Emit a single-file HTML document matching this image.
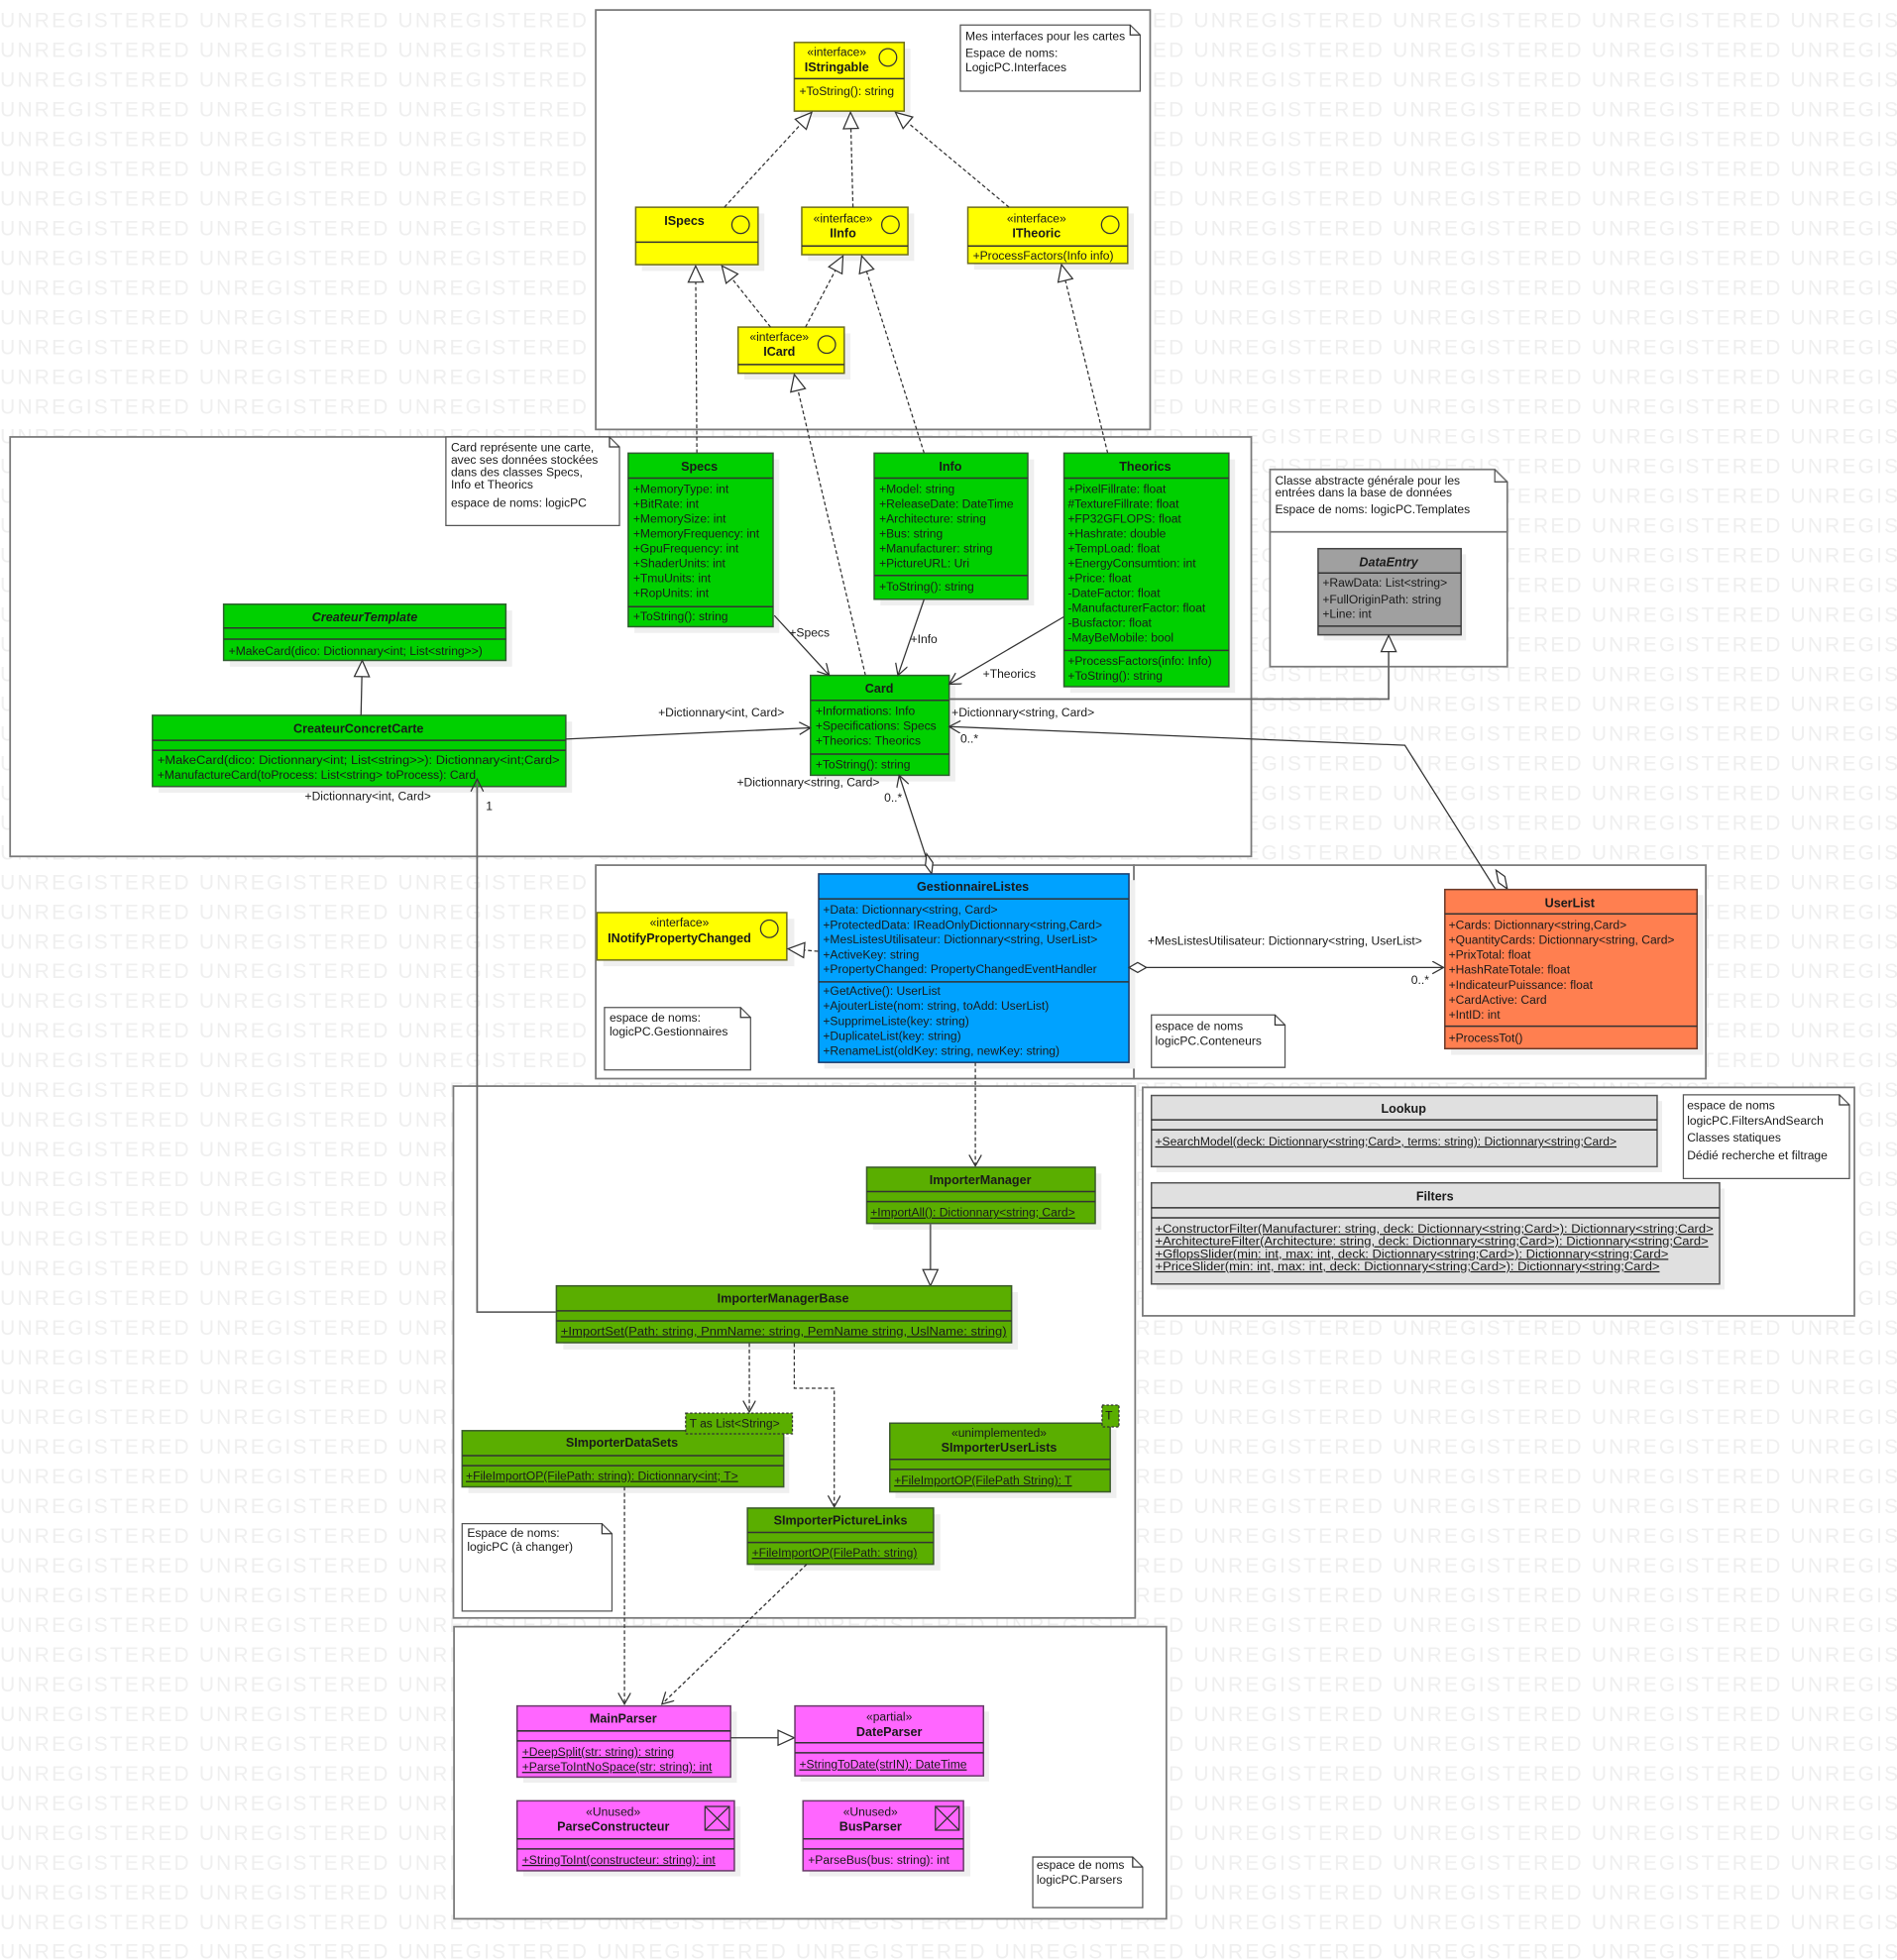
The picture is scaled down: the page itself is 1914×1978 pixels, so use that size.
<!DOCTYPE html>
<html><head><meta charset="utf-8"><style>
html,body{margin:0;padding:0;background:#fff;}
svg{display:block;}
text{font-family:"Liberation Sans",sans-serif;font-size:9.6px;fill:#1a1a1a;}
.wm{font-size:16.6px;fill:#efefef;}
.t{font-weight:bold;font-size:10px;text-anchor:middle;}
.c{text-anchor:middle;}
.i{font-style:italic;}
.u{text-decoration:underline;}
.pk{fill:#fff;stroke:#7a7a7a;stroke-width:1.4;}
.nt{fill:#fff;stroke:#555;stroke-width:1;}
.sh{fill:#efefef;}
.y{fill:#ffff00;stroke:#6e6e1e;stroke-width:1.2;}
.g{fill:#00d000;stroke:#2f5f2f;stroke-width:1.2;}
.g2{fill:#5aae00;stroke:#3a5a2a;stroke-width:1.2;}
.b{fill:#00a2ff;stroke:#1a3a6a;stroke-width:1.2;}
.o{fill:#ff7f50;stroke:#6a3a2a;stroke-width:1.2;}
.m{fill:#ff66ff;stroke:#6a3a6a;stroke-width:1.2;}
.gr{fill:#e0e0e0;stroke:#555;stroke-width:1.2;}
.dg{fill:#a0a0a0;stroke:#444;stroke-width:1.2;}
.dv{stroke:#333;stroke-width:1.2;}
.ln{stroke:#333;stroke-width:1;fill:none;}
.ls{stroke:#666;stroke-width:1.4;fill:none;}
.d{stroke:#333;stroke-width:1;fill:none;stroke-dasharray:3,2;}
</style></head><body>
<svg width="1914" height="1978" viewBox="0 0 1519 1570" xmlns="http://www.w3.org/2000/svg">
<defs>
<marker id="tri" markerUnits="userSpaceOnUse" markerWidth="16" markerHeight="16" refX="14" refY="7" orient="auto"><path d="M1,1 L14,7 L1,13 z" fill="#fff" stroke="#333" stroke-width="1"/></marker>
<marker id="arr" markerUnits="userSpaceOnUse" markerWidth="12" markerHeight="12" refX="10" refY="5" orient="auto"><path d="M1,0 L10,5 L1,10" fill="none" stroke="#333" stroke-width="1"/></marker>
<marker id="dia" markerUnits="userSpaceOnUse" markerWidth="16" markerHeight="10" refX="1" refY="4" orient="auto"><path d="M1,4 L7,1 L13,4 L7,7 z" fill="#fff" stroke="#333" stroke-width="1"/></marker>
</defs>
<rect width="1519" height="1570" fill="#fff"/>
<g>
<text class="wm" x="0" y="22" textLength="1585" lengthAdjust="spacing">UNREGISTERED UNREGISTERED UNREGISTERED UNREGISTERED UNREGISTERED UNREGISTERED UNREGISTERED UNREGISTERED UNREGISTERED UNREGISTERED</text>
<text class="wm" x="0" y="45.8" textLength="1585" lengthAdjust="spacing">UNREGISTERED UNREGISTERED UNREGISTERED UNREGISTERED UNREGISTERED UNREGISTERED UNREGISTERED UNREGISTERED UNREGISTERED UNREGISTERED</text>
<text class="wm" x="0" y="69.6" textLength="1585" lengthAdjust="spacing">UNREGISTERED UNREGISTERED UNREGISTERED UNREGISTERED UNREGISTERED UNREGISTERED UNREGISTERED UNREGISTERED UNREGISTERED UNREGISTERED</text>
<text class="wm" x="0" y="93.4" textLength="1585" lengthAdjust="spacing">UNREGISTERED UNREGISTERED UNREGISTERED UNREGISTERED UNREGISTERED UNREGISTERED UNREGISTERED UNREGISTERED UNREGISTERED UNREGISTERED</text>
<text class="wm" x="0" y="117.2" textLength="1585" lengthAdjust="spacing">UNREGISTERED UNREGISTERED UNREGISTERED UNREGISTERED UNREGISTERED UNREGISTERED UNREGISTERED UNREGISTERED UNREGISTERED UNREGISTERED</text>
<text class="wm" x="0" y="141" textLength="1585" lengthAdjust="spacing">UNREGISTERED UNREGISTERED UNREGISTERED UNREGISTERED UNREGISTERED UNREGISTERED UNREGISTERED UNREGISTERED UNREGISTERED UNREGISTERED</text>
<text class="wm" x="0" y="164.8" textLength="1585" lengthAdjust="spacing">UNREGISTERED UNREGISTERED UNREGISTERED UNREGISTERED UNREGISTERED UNREGISTERED UNREGISTERED UNREGISTERED UNREGISTERED UNREGISTERED</text>
<text class="wm" x="0" y="188.6" textLength="1585" lengthAdjust="spacing">UNREGISTERED UNREGISTERED UNREGISTERED UNREGISTERED UNREGISTERED UNREGISTERED UNREGISTERED UNREGISTERED UNREGISTERED UNREGISTERED</text>
<text class="wm" x="0" y="212.4" textLength="1585" lengthAdjust="spacing">UNREGISTERED UNREGISTERED UNREGISTERED UNREGISTERED UNREGISTERED UNREGISTERED UNREGISTERED UNREGISTERED UNREGISTERED UNREGISTERED</text>
<text class="wm" x="0" y="236.2" textLength="1585" lengthAdjust="spacing">UNREGISTERED UNREGISTERED UNREGISTERED UNREGISTERED UNREGISTERED UNREGISTERED UNREGISTERED UNREGISTERED UNREGISTERED UNREGISTERED</text>
<text class="wm" x="0" y="260" textLength="1585" lengthAdjust="spacing">UNREGISTERED UNREGISTERED UNREGISTERED UNREGISTERED UNREGISTERED UNREGISTERED UNREGISTERED UNREGISTERED UNREGISTERED UNREGISTERED</text>
<text class="wm" x="0" y="283.8" textLength="1585" lengthAdjust="spacing">UNREGISTERED UNREGISTERED UNREGISTERED UNREGISTERED UNREGISTERED UNREGISTERED UNREGISTERED UNREGISTERED UNREGISTERED UNREGISTERED</text>
<text class="wm" x="0" y="307.6" textLength="1585" lengthAdjust="spacing">UNREGISTERED UNREGISTERED UNREGISTERED UNREGISTERED UNREGISTERED UNREGISTERED UNREGISTERED UNREGISTERED UNREGISTERED UNREGISTERED</text>
<text class="wm" x="0" y="331.4" textLength="1585" lengthAdjust="spacing">UNREGISTERED UNREGISTERED UNREGISTERED UNREGISTERED UNREGISTERED UNREGISTERED UNREGISTERED UNREGISTERED UNREGISTERED UNREGISTERED</text>
<text class="wm" x="0" y="355.2" textLength="1585" lengthAdjust="spacing">UNREGISTERED UNREGISTERED UNREGISTERED UNREGISTERED UNREGISTERED UNREGISTERED UNREGISTERED UNREGISTERED UNREGISTERED UNREGISTERED</text>
<text class="wm" x="0" y="379" textLength="1585" lengthAdjust="spacing">UNREGISTERED UNREGISTERED UNREGISTERED UNREGISTERED UNREGISTERED UNREGISTERED UNREGISTERED UNREGISTERED UNREGISTERED UNREGISTERED</text>
<text class="wm" x="0" y="402.8" textLength="1585" lengthAdjust="spacing">UNREGISTERED UNREGISTERED UNREGISTERED UNREGISTERED UNREGISTERED UNREGISTERED UNREGISTERED UNREGISTERED UNREGISTERED UNREGISTERED</text>
<text class="wm" x="0" y="426.6" textLength="1585" lengthAdjust="spacing">UNREGISTERED UNREGISTERED UNREGISTERED UNREGISTERED UNREGISTERED UNREGISTERED UNREGISTERED UNREGISTERED UNREGISTERED UNREGISTERED</text>
<text class="wm" x="0" y="450.4" textLength="1585" lengthAdjust="spacing">UNREGISTERED UNREGISTERED UNREGISTERED UNREGISTERED UNREGISTERED UNREGISTERED UNREGISTERED UNREGISTERED UNREGISTERED UNREGISTERED</text>
<text class="wm" x="0" y="474.2" textLength="1585" lengthAdjust="spacing">UNREGISTERED UNREGISTERED UNREGISTERED UNREGISTERED UNREGISTERED UNREGISTERED UNREGISTERED UNREGISTERED UNREGISTERED UNREGISTERED</text>
<text class="wm" x="0" y="498" textLength="1585" lengthAdjust="spacing">UNREGISTERED UNREGISTERED UNREGISTERED UNREGISTERED UNREGISTERED UNREGISTERED UNREGISTERED UNREGISTERED UNREGISTERED UNREGISTERED</text>
<text class="wm" x="0" y="521.8" textLength="1585" lengthAdjust="spacing">UNREGISTERED UNREGISTERED UNREGISTERED UNREGISTERED UNREGISTERED UNREGISTERED UNREGISTERED UNREGISTERED UNREGISTERED UNREGISTERED</text>
<text class="wm" x="0" y="545.6" textLength="1585" lengthAdjust="spacing">UNREGISTERED UNREGISTERED UNREGISTERED UNREGISTERED UNREGISTERED UNREGISTERED UNREGISTERED UNREGISTERED UNREGISTERED UNREGISTERED</text>
<text class="wm" x="0" y="569.4" textLength="1585" lengthAdjust="spacing">UNREGISTERED UNREGISTERED UNREGISTERED UNREGISTERED UNREGISTERED UNREGISTERED UNREGISTERED UNREGISTERED UNREGISTERED UNREGISTERED</text>
<text class="wm" x="0" y="593.2" textLength="1585" lengthAdjust="spacing">UNREGISTERED UNREGISTERED UNREGISTERED UNREGISTERED UNREGISTERED UNREGISTERED UNREGISTERED UNREGISTERED UNREGISTERED UNREGISTERED</text>
<text class="wm" x="0" y="617" textLength="1585" lengthAdjust="spacing">UNREGISTERED UNREGISTERED UNREGISTERED UNREGISTERED UNREGISTERED UNREGISTERED UNREGISTERED UNREGISTERED UNREGISTERED UNREGISTERED</text>
<text class="wm" x="0" y="640.8" textLength="1585" lengthAdjust="spacing">UNREGISTERED UNREGISTERED UNREGISTERED UNREGISTERED UNREGISTERED UNREGISTERED UNREGISTERED UNREGISTERED UNREGISTERED UNREGISTERED</text>
<text class="wm" x="0" y="664.6" textLength="1585" lengthAdjust="spacing">UNREGISTERED UNREGISTERED UNREGISTERED UNREGISTERED UNREGISTERED UNREGISTERED UNREGISTERED UNREGISTERED UNREGISTERED UNREGISTERED</text>
<text class="wm" x="0" y="688.4" textLength="1585" lengthAdjust="spacing">UNREGISTERED UNREGISTERED UNREGISTERED UNREGISTERED UNREGISTERED UNREGISTERED UNREGISTERED UNREGISTERED UNREGISTERED UNREGISTERED</text>
<text class="wm" x="0" y="712.2" textLength="1585" lengthAdjust="spacing">UNREGISTERED UNREGISTERED UNREGISTERED UNREGISTERED UNREGISTERED UNREGISTERED UNREGISTERED UNREGISTERED UNREGISTERED UNREGISTERED</text>
<text class="wm" x="0" y="736" textLength="1585" lengthAdjust="spacing">UNREGISTERED UNREGISTERED UNREGISTERED UNREGISTERED UNREGISTERED UNREGISTERED UNREGISTERED UNREGISTERED UNREGISTERED UNREGISTERED</text>
<text class="wm" x="0" y="759.8" textLength="1585" lengthAdjust="spacing">UNREGISTERED UNREGISTERED UNREGISTERED UNREGISTERED UNREGISTERED UNREGISTERED UNREGISTERED UNREGISTERED UNREGISTERED UNREGISTERED</text>
<text class="wm" x="0" y="783.6" textLength="1585" lengthAdjust="spacing">UNREGISTERED UNREGISTERED UNREGISTERED UNREGISTERED UNREGISTERED UNREGISTERED UNREGISTERED UNREGISTERED UNREGISTERED UNREGISTERED</text>
<text class="wm" x="0" y="807.4" textLength="1585" lengthAdjust="spacing">UNREGISTERED UNREGISTERED UNREGISTERED UNREGISTERED UNREGISTERED UNREGISTERED UNREGISTERED UNREGISTERED UNREGISTERED UNREGISTERED</text>
<text class="wm" x="0" y="831.2" textLength="1585" lengthAdjust="spacing">UNREGISTERED UNREGISTERED UNREGISTERED UNREGISTERED UNREGISTERED UNREGISTERED UNREGISTERED UNREGISTERED UNREGISTERED UNREGISTERED</text>
<text class="wm" x="0" y="855" textLength="1585" lengthAdjust="spacing">UNREGISTERED UNREGISTERED UNREGISTERED UNREGISTERED UNREGISTERED UNREGISTERED UNREGISTERED UNREGISTERED UNREGISTERED UNREGISTERED</text>
<text class="wm" x="0" y="878.8" textLength="1585" lengthAdjust="spacing">UNREGISTERED UNREGISTERED UNREGISTERED UNREGISTERED UNREGISTERED UNREGISTERED UNREGISTERED UNREGISTERED UNREGISTERED UNREGISTERED</text>
<text class="wm" x="0" y="902.6" textLength="1585" lengthAdjust="spacing">UNREGISTERED UNREGISTERED UNREGISTERED UNREGISTERED UNREGISTERED UNREGISTERED UNREGISTERED UNREGISTERED UNREGISTERED UNREGISTERED</text>
<text class="wm" x="0" y="926.4" textLength="1585" lengthAdjust="spacing">UNREGISTERED UNREGISTERED UNREGISTERED UNREGISTERED UNREGISTERED UNREGISTERED UNREGISTERED UNREGISTERED UNREGISTERED UNREGISTERED</text>
<text class="wm" x="0" y="950.2" textLength="1585" lengthAdjust="spacing">UNREGISTERED UNREGISTERED UNREGISTERED UNREGISTERED UNREGISTERED UNREGISTERED UNREGISTERED UNREGISTERED UNREGISTERED UNREGISTERED</text>
<text class="wm" x="0" y="974" textLength="1585" lengthAdjust="spacing">UNREGISTERED UNREGISTERED UNREGISTERED UNREGISTERED UNREGISTERED UNREGISTERED UNREGISTERED UNREGISTERED UNREGISTERED UNREGISTERED</text>
<text class="wm" x="0" y="997.8" textLength="1585" lengthAdjust="spacing">UNREGISTERED UNREGISTERED UNREGISTERED UNREGISTERED UNREGISTERED UNREGISTERED UNREGISTERED UNREGISTERED UNREGISTERED UNREGISTERED</text>
<text class="wm" x="0" y="1021.6" textLength="1585" lengthAdjust="spacing">UNREGISTERED UNREGISTERED UNREGISTERED UNREGISTERED UNREGISTERED UNREGISTERED UNREGISTERED UNREGISTERED UNREGISTERED UNREGISTERED</text>
<text class="wm" x="0" y="1045.4" textLength="1585" lengthAdjust="spacing">UNREGISTERED UNREGISTERED UNREGISTERED UNREGISTERED UNREGISTERED UNREGISTERED UNREGISTERED UNREGISTERED UNREGISTERED UNREGISTERED</text>
<text class="wm" x="0" y="1069.2" textLength="1585" lengthAdjust="spacing">UNREGISTERED UNREGISTERED UNREGISTERED UNREGISTERED UNREGISTERED UNREGISTERED UNREGISTERED UNREGISTERED UNREGISTERED UNREGISTERED</text>
<text class="wm" x="0" y="1093" textLength="1585" lengthAdjust="spacing">UNREGISTERED UNREGISTERED UNREGISTERED UNREGISTERED UNREGISTERED UNREGISTERED UNREGISTERED UNREGISTERED UNREGISTERED UNREGISTERED</text>
<text class="wm" x="0" y="1116.8" textLength="1585" lengthAdjust="spacing">UNREGISTERED UNREGISTERED UNREGISTERED UNREGISTERED UNREGISTERED UNREGISTERED UNREGISTERED UNREGISTERED UNREGISTERED UNREGISTERED</text>
<text class="wm" x="0" y="1140.6" textLength="1585" lengthAdjust="spacing">UNREGISTERED UNREGISTERED UNREGISTERED UNREGISTERED UNREGISTERED UNREGISTERED UNREGISTERED UNREGISTERED UNREGISTERED UNREGISTERED</text>
<text class="wm" x="0" y="1164.4" textLength="1585" lengthAdjust="spacing">UNREGISTERED UNREGISTERED UNREGISTERED UNREGISTERED UNREGISTERED UNREGISTERED UNREGISTERED UNREGISTERED UNREGISTERED UNREGISTERED</text>
<text class="wm" x="0" y="1188.2" textLength="1585" lengthAdjust="spacing">UNREGISTERED UNREGISTERED UNREGISTERED UNREGISTERED UNREGISTERED UNREGISTERED UNREGISTERED UNREGISTERED UNREGISTERED UNREGISTERED</text>
<text class="wm" x="0" y="1212" textLength="1585" lengthAdjust="spacing">UNREGISTERED UNREGISTERED UNREGISTERED UNREGISTERED UNREGISTERED UNREGISTERED UNREGISTERED UNREGISTERED UNREGISTERED UNREGISTERED</text>
<text class="wm" x="0" y="1235.8" textLength="1585" lengthAdjust="spacing">UNREGISTERED UNREGISTERED UNREGISTERED UNREGISTERED UNREGISTERED UNREGISTERED UNREGISTERED UNREGISTERED UNREGISTERED UNREGISTERED</text>
<text class="wm" x="0" y="1259.6" textLength="1585" lengthAdjust="spacing">UNREGISTERED UNREGISTERED UNREGISTERED UNREGISTERED UNREGISTERED UNREGISTERED UNREGISTERED UNREGISTERED UNREGISTERED UNREGISTERED</text>
<text class="wm" x="0" y="1283.4" textLength="1585" lengthAdjust="spacing">UNREGISTERED UNREGISTERED UNREGISTERED UNREGISTERED UNREGISTERED UNREGISTERED UNREGISTERED UNREGISTERED UNREGISTERED UNREGISTERED</text>
<text class="wm" x="0" y="1307.2" textLength="1585" lengthAdjust="spacing">UNREGISTERED UNREGISTERED UNREGISTERED UNREGISTERED UNREGISTERED UNREGISTERED UNREGISTERED UNREGISTERED UNREGISTERED UNREGISTERED</text>
<text class="wm" x="0" y="1331" textLength="1585" lengthAdjust="spacing">UNREGISTERED UNREGISTERED UNREGISTERED UNREGISTERED UNREGISTERED UNREGISTERED UNREGISTERED UNREGISTERED UNREGISTERED UNREGISTERED</text>
<text class="wm" x="0" y="1354.8" textLength="1585" lengthAdjust="spacing">UNREGISTERED UNREGISTERED UNREGISTERED UNREGISTERED UNREGISTERED UNREGISTERED UNREGISTERED UNREGISTERED UNREGISTERED UNREGISTERED</text>
<text class="wm" x="0" y="1378.6" textLength="1585" lengthAdjust="spacing">UNREGISTERED UNREGISTERED UNREGISTERED UNREGISTERED UNREGISTERED UNREGISTERED UNREGISTERED UNREGISTERED UNREGISTERED UNREGISTERED</text>
<text class="wm" x="0" y="1402.4" textLength="1585" lengthAdjust="spacing">UNREGISTERED UNREGISTERED UNREGISTERED UNREGISTERED UNREGISTERED UNREGISTERED UNREGISTERED UNREGISTERED UNREGISTERED UNREGISTERED</text>
<text class="wm" x="0" y="1426.2" textLength="1585" lengthAdjust="spacing">UNREGISTERED UNREGISTERED UNREGISTERED UNREGISTERED UNREGISTERED UNREGISTERED UNREGISTERED UNREGISTERED UNREGISTERED UNREGISTERED</text>
<text class="wm" x="0" y="1450" textLength="1585" lengthAdjust="spacing">UNREGISTERED UNREGISTERED UNREGISTERED UNREGISTERED UNREGISTERED UNREGISTERED UNREGISTERED UNREGISTERED UNREGISTERED UNREGISTERED</text>
<text class="wm" x="0" y="1473.8" textLength="1585" lengthAdjust="spacing">UNREGISTERED UNREGISTERED UNREGISTERED UNREGISTERED UNREGISTERED UNREGISTERED UNREGISTERED UNREGISTERED UNREGISTERED UNREGISTERED</text>
<text class="wm" x="0" y="1497.6" textLength="1585" lengthAdjust="spacing">UNREGISTERED UNREGISTERED UNREGISTERED UNREGISTERED UNREGISTERED UNREGISTERED UNREGISTERED UNREGISTERED UNREGISTERED UNREGISTERED</text>
<text class="wm" x="0" y="1521.4" textLength="1585" lengthAdjust="spacing">UNREGISTERED UNREGISTERED UNREGISTERED UNREGISTERED UNREGISTERED UNREGISTERED UNREGISTERED UNREGISTERED UNREGISTERED UNREGISTERED</text>
<text class="wm" x="0" y="1545.2" textLength="1585" lengthAdjust="spacing">UNREGISTERED UNREGISTERED UNREGISTERED UNREGISTERED UNREGISTERED UNREGISTERED UNREGISTERED UNREGISTERED UNREGISTERED UNREGISTERED</text>
<text class="wm" x="0" y="1569" textLength="1585" lengthAdjust="spacing">UNREGISTERED UNREGISTERED UNREGISTERED UNREGISTERED UNREGISTERED UNREGISTERED UNREGISTERED UNREGISTERED UNREGISTERED UNREGISTERED</text>
</g>

<!-- Packages -->
<rect class="pk" x="477" y="8" width="444" height="336"/>
<rect class="pk" x="8" y="350" width="994" height="336"/>
<rect class="pk" x="477" y="693" width="431" height="171"/>
<rect class="pk" x="908" y="693" width="458" height="171"/>
<rect class="pk" x="363" y="870" width="546" height="426"/>
<rect class="pk" x="915" y="871" width="570" height="183"/>
<rect class="pk" x="363.5" y="1303" width="570.5" height="234"/>
<path class="pk" d="M1017,376 H1197 L1207,386 V534 H1017 Z"/>
<line x1="1017" y1="426" x2="1207" y2="426" stroke="#7a7a7a" stroke-width="1.4"/>
<path d="M1197,376 V386 H1207" fill="none" stroke="#555" stroke-width="1"/>
<text x="1021" y="388">Classe abstracte générale pour les</text>
<text x="1021" y="397.5">entrées dans la base de données</text>
<text x="1021" y="411">Espace de noms: logicPC.Templates</text>

<!-- Notes -->
<path class="nt" d="M769,20 H905 L913,28 V73 H769 Z"/><path class="ln" d="M905,20 V28 H913"/>
<text x="773" y="32">Mes interfaces pour les cartes</text><text x="773" y="45.5">Espace de noms:</text><text x="773" y="57">LogicPC.Interfaces</text>

<path class="nt" d="M357,350 H488 L496,358 V421 H357 Z"/><path class="ln" d="M488,350 V358 H496"/>
<text x="361" y="361.5">Card représente une carte,</text><text x="361" y="371.5">avec ses données stockées</text><text x="361" y="381.5">dans des classes Specs,</text><text x="361" y="391.5">Info et Theorics</text><text x="361" y="406">espace de noms: logicPC</text>

<path class="nt" d="M484,807 H593 L601,815 V857 H484 Z"/><path class="ln" d="M593,807 V815 H601"/>
<text x="488" y="818.5">espace de noms:</text><text x="488" y="829.5">logicPC.Gestionnaires</text>

<path class="nt" d="M922,813 H1021 L1029,821 V855 H922 Z"/><path class="ln" d="M1021,813 V821 H1029"/>
<text x="925" y="825">espace de noms</text><text x="925" y="837">logicPC.Conteneurs</text>

<path class="nt" d="M1348,877 H1473 L1481,885 V944 H1348 Z"/><path class="ln" d="M1473,877 V885 H1481"/>
<text x="1351" y="888.5">espace de noms</text><text x="1351" y="901">logicPC.FiltersAndSearch</text><text x="1351" y="914.5">Classes statiques</text><text x="1351" y="928.5">Dédié recherche et filtrage</text>

<path class="nt" d="M370,1220.5 H482 L490,1228.5 V1290.5 H370 Z"/><path class="ln" d="M482,1220.5 V1228.5 H490"/>
<text x="374" y="1231">Espace de noms:</text><text x="374" y="1242">logicPC (à changer)</text>

<path class="nt" d="M827,1487.5 H907 L915,1495.5 V1528 H827 Z"/><path class="ln" d="M907,1487.5 V1495.5 H915"/>
<text x="830" y="1497">espace de noms</text><text x="830" y="1509">logicPC.Parsers</text>

<!-- Shadows -->
<g class="sh">
<rect x="641" y="39" width="88" height="55"/><rect x="514" y="171" width="98" height="46"/><rect x="647" y="171" width="85" height="38"/><rect x="780" y="171" width="128" height="45"/><rect x="596" y="267" width="85" height="37"/>
<rect x="508" y="368" width="116" height="139"/><rect x="705" y="368" width="123" height="117"/><rect x="857" y="368" width="132" height="187"/><rect x="654" y="546" width="111" height="80"/>
<rect x="184" y="489" width="226" height="45"/><rect x="127" y="578" width="331" height="57"/><rect x="1060" y="444" width="114" height="69"/>
<rect x="483" y="736" width="153" height="38"/><rect x="660" y="705" width="249" height="151"/><rect x="1162" y="717" width="202" height="128"/>
<rect x="926" y="882" width="405" height="57"/><rect x="926" y="952" width="455" height="81"/>
<rect x="699" y="940" width="183" height="45"/><rect x="451" y="1035" width="364" height="46"/><rect x="375" y="1151" width="257" height="45"/><rect x="717" y="1145" width="177" height="55"/><rect x="604" y="1213" width="149" height="45"/>
<rect x="419" y="1371" width="171" height="57"/><rect x="641" y="1371" width="151" height="56"/><rect x="419" y="1447" width="174" height="56"/><rect x="648" y="1447" width="129" height="56"/>
</g>

<!-- Interfaces -->
<rect class="y" x="636" y="34" width="88" height="55"/><line class="dv" x1="636" y1="63" x2="724" y2="63"/>
<text class="c" x="670" y="45">«interface»</text><text class="t" x="670" y="57">IStringable</text><text x="640" y="76">+ToString(): string</text>
<circle cx="711" cy="46" r="7" fill="none" stroke="#333"/>

<rect class="y" x="509" y="166" width="98" height="46"/><line class="dv" x1="509" y1="194" x2="607" y2="194"/>
<text class="t" x="548" y="180">ISpecs</text><circle cx="593" cy="180" r="7" fill="none" stroke="#333"/>

<rect class="y" x="642" y="166" width="85" height="38"/><line class="dv" x1="642" y1="197" x2="727" y2="197"/>
<text class="c" x="675" y="178">«interface»</text><text class="t" x="675" y="190">IInfo</text><circle cx="713" cy="180" r="7" fill="none" stroke="#333"/>

<rect class="y" x="775" y="166" width="128" height="45"/><line class="dv" x1="775" y1="197" x2="903" y2="197"/>
<text class="c" x="830" y="178">«interface»</text><text class="t" x="830" y="190">ITheoric</text><text x="779" y="208">+ProcessFactors(Info info)</text><circle cx="889" cy="180" r="7" fill="none" stroke="#333"/>

<rect class="y" x="591" y="262" width="85" height="37"/><line class="dv" x1="591" y1="292" x2="676" y2="292"/>
<text class="c" x="624" y="273">«interface»</text><text class="t" x="624" y="285">ICard</text><circle cx="662" cy="276" r="7" fill="none" stroke="#333"/>

<!-- Realizations in interface pkg -->
<line class="d" x1="580" y1="166" x2="650" y2="90" marker-end="url(#tri)"/>
<line class="d" x1="683" y1="166" x2="681" y2="90" marker-end="url(#tri)"/>
<line class="d" x1="808" y1="166" x2="717" y2="90" marker-end="url(#tri)"/>
<line class="d" x1="617" y1="262" x2="578" y2="213" marker-end="url(#tri)"/>
<line class="d" x1="645" y1="262" x2="675" y2="205" marker-end="url(#tri)"/>
<line class="d" x1="558" y1="363" x2="557" y2="213" marker-end="url(#tri)"/>
<line class="d" x1="740" y1="363" x2="690" y2="205" marker-end="url(#tri)"/>
<line class="d" x1="887" y1="363" x2="850" y2="212" marker-end="url(#tri)"/>
<line class="d" x1="693" y1="541" x2="636" y2="300" marker-end="url(#tri)"/>

<!-- Specs -->
<rect class="g" x="503" y="363" width="116" height="139"/><line class="dv" x1="503" y1="383" x2="619" y2="383"/><line class="dv" x1="503" y1="486" x2="619" y2="486"/>
<text class="t" x="560" y="377">Specs</text>
<text x="507" y="395">+MemoryType: int</text><text x="507" y="406.9">+BitRate: int</text><text x="507" y="418.8">+MemorySize: int</text><text x="507" y="430.7">+MemoryFrequency: int</text><text x="507" y="442.6">+GpuFrequency: int</text><text x="507" y="454.5">+ShaderUnits: int</text><text x="507" y="466.4">+TmuUnits: int</text><text x="507" y="478.3">+RopUnits: int</text>
<text x="507" y="497">+ToString(): string</text>

<!-- Info -->
<rect class="g" x="700" y="363" width="123" height="117"/><line class="dv" x1="700" y1="383" x2="823" y2="383"/><line class="dv" x1="700" y1="461" x2="823" y2="461"/>
<text class="t" x="761" y="377">Info</text>
<text x="704" y="395">+Model: string</text><text x="704" y="406.9">+ReleaseDate: DateTime</text><text x="704" y="418.8">+Architecture: string</text><text x="704" y="430.7">+Bus: string</text><text x="704" y="442.6">+Manufacturer: string</text><text x="704" y="454.5">+PictureURL: Uri</text>
<text x="704" y="473">+ToString(): string</text>

<!-- Theorics -->
<rect class="g" x="852" y="363" width="132" height="187"/><line class="dv" x1="852" y1="383" x2="984" y2="383"/><line class="dv" x1="852" y1="521" x2="984" y2="521"/>
<text class="t" x="917" y="377">Theorics</text>
<text x="855" y="395">+PixelFillrate: float</text><text x="855" y="406.9">#TextureFillrate: float</text><text x="855" y="418.8">+FP32GFLOPS: float</text><text x="855" y="430.7">+Hashrate: double</text><text x="855" y="442.6">+TempLoad: float</text><text x="855" y="454.5">+EnergyConsumtion: int</text><text x="855" y="466.4">+Price: float</text><text x="855" y="478.3">-DateFactor: float</text><text x="855" y="490.2">-ManufacturerFactor: float</text><text x="855" y="502.1">-Busfactor: float</text><text x="855" y="514">-MayBeMobile: bool</text>
<text x="855" y="532.5">+ProcessFactors(info: Info)</text><text x="855" y="544.5">+ToString(): string</text>

<!-- Card -->
<rect class="g" x="649" y="541" width="111" height="80"/><line class="dv" x1="649" y1="561" x2="760" y2="561"/><line class="dv" x1="649" y1="604" x2="760" y2="604"/>
<text class="t" x="704" y="555">Card</text>
<text x="653" y="572.5">+Informations: Info</text><text x="653" y="584.5">+Specifications: Specs</text><text x="653" y="596.5">+Theorics: Theorics</text><text x="653" y="615.5">+ToString(): string</text>

<!-- Createurs -->
<rect class="g" x="179" y="484" width="226" height="45"/><line class="dv" x1="179" y1="503" x2="405" y2="503"/><line class="dv" x1="179" y1="512" x2="405" y2="512"/>
<text class="t i" x="292" y="497.5">CreateurTemplate</text><text x="183" y="524.5">+MakeCard(dico: Dictionnary&lt;int; List&lt;string&gt;&gt;)</text>
<rect class="g" x="122" y="573" width="331" height="57"/><line class="dv" x1="122" y1="593" x2="453" y2="593"/><line class="dv" x1="122" y1="601" x2="453" y2="601"/>
<text class="t" x="287" y="587">CreateurConcretCarte</text>
<text x="126" y="612" textLength="322" lengthAdjust="spacingAndGlyphs">+MakeCard(dico: Dictionnary&lt;int; List&lt;string&gt;&gt;): Dictionnary&lt;int;Card&gt;</text><text x="126" y="624">+ManufactureCard(toProcess: List&lt;string&gt; toProcess): Card</text>
<line class="ln" x1="289" y1="573" x2="290" y2="529" marker-end="url(#tri)"/>

<!-- DataEntry -->
<rect class="dg" x="1055.5" y="439.5" width="114.5" height="69"/><line class="dv" x1="1055.5" y1="459" x2="1170" y2="459"/><line class="dv" x1="1055.5" y1="501.5" x2="1170" y2="501.5"/>
<text class="t i" x="1112" y="453.5">DataEntry</text>
<text x="1059" y="470">+RawData: List&lt;string&gt;</text><text x="1059" y="483.5">+FullOriginPath: string</text><text x="1059" y="495">+Line: int</text>
<polyline class="ls" points="760,560 1112,560 1112,509" marker-end="url(#tri)"/>

<!-- Card associations -->
<line class="ln" x1="620" y1="493" x2="664" y2="541" marker-end="url(#arr)"/><text x="632" y="510">+Specs</text>
<line class="ln" x1="740" y1="480" x2="719" y2="541" marker-end="url(#arr)"/><text x="729" y="515">+Info</text>
<line class="ln" x1="852" y1="494" x2="760" y2="548" marker-end="url(#arr)"/><text x="787" y="543">+Theorics</text>
<line class="ln" x1="453" y1="592" x2="649" y2="583" marker-end="url(#arr)"/><text x="527" y="574">+Dictionnary&lt;int, Card&gt;</text>
<text x="244" y="641">+Dictionnary&lt;int, Card&gt;</text>
<polyline class="ln" points="1198,713 1125,597 760,582" marker-end="url(#arr)"/>
<path d="M1207,712 L1205,702 L1198,697 L1200,707 Z" fill="#fff" stroke="#333"/>
<text x="762" y="574">+Dictionnary&lt;string, Card&gt;</text><text x="769" y="595">0..*</text>
<line class="ln" x1="742" y1="688" x2="720" y2="621" marker-end="url(#arr)"/>
<path d="M746,700 L741,693 L742,684 L747,691 Z" fill="#fff" stroke="#333"/>
<text x="590" y="630">+Dictionnary&lt;string, Card&gt;</text><text x="708" y="642">0..*</text>
<polyline class="ls" points="445,1051 382,1051 382,624"/>
<path d="M377,634 L382,624 L387,634" fill="none" stroke="#333"/>
<text x="389" y="649">1</text>

<!-- INotifyPropertyChanged -->
<rect class="y" x="478" y="731" width="152" height="38"/>
<text class="c" x="544" y="742">«interface»</text><text class="t" x="544" y="755">INotifyPropertyChanged</text>
<circle cx="616" cy="744" r="7" fill="none" stroke="#333"/>

<!-- GestionnaireListes -->
<rect class="b" x="655.5" y="700" width="248.5" height="151"/><line class="dv" x1="655.5" y1="720" x2="904" y2="720"/><line class="dv" x1="655.5" y1="786.5" x2="904" y2="786.5"/>
<text class="t" x="779" y="713.5">GestionnaireListes</text>
<text x="659" y="732">+Data: Dictionnary&lt;string, Card&gt;</text><text x="659" y="744">+ProtectedData: IReadOnlyDictionnary&lt;string,Card&gt;</text><text x="659" y="755.5">+MesListesUtilisateur: Dictionnary&lt;string, UserList&gt;</text><text x="659" y="768">+ActiveKey: string</text><text x="659" y="779.5">+PropertyChanged: PropertyChangedEventHandler</text>
<text x="659" y="797">+GetActive(): UserList</text><text x="659" y="809">+AjouterListe(nom: string, toAdd: UserList)</text><text x="659" y="821">+SupprimeListe(key: string)</text><text x="659" y="833">+DuplicateList(key: string)</text><text x="659" y="845">+RenameList(oldKey: string, newKey: string)</text>
<line class="d" x1="655" y1="762" x2="631" y2="760" marker-end="url(#tri)"/>

<!-- UserList -->
<rect class="o" x="1157" y="712.5" width="202" height="127.5"/><line class="dv" x1="1157" y1="732" x2="1359" y2="732"/><line class="dv" x1="1157" y1="822" x2="1359" y2="822"/>
<text class="t" x="1257" y="726.5">UserList</text>
<text x="1160" y="744">+Cards: Dictionnary&lt;string,Card&gt;</text><text x="1160" y="756">+QuantityCards: Dictionnary&lt;string, Card&gt;</text><text x="1160" y="768">+PrixTotal: float</text><text x="1160" y="780">+HashRateTotale: float</text><text x="1160" y="792">+IndicateurPuissance: float</text><text x="1160" y="804">+CardActive: Card</text><text x="1160" y="816">+IntID: int</text>
<text x="1160" y="834.5">+ProcessTot()</text>
<line class="ln" x1="917" y1="775" x2="1156" y2="775" marker-end="url(#arr)"/>
<path d="M904,775 L911,771 L918,775 L911,779 Z" fill="#fff" stroke="#333"/>
<text x="919" y="757">+MesListesUtilisateur: Dictionnary&lt;string, UserList&gt;</text><text x="1130" y="788">0..*</text>

<!-- Lookup / Filters -->
<rect class="gr" x="922" y="877.5" width="405" height="57"/><line class="dv" x1="922" y1="897" x2="1327" y2="897"/><line class="dv" x1="922" y1="905" x2="1327" y2="905"/>
<text class="t" x="1124" y="891.5">Lookup</text>
<text class="u" x="925" y="917.5">+SearchModel(deck: Dictionnary&lt;string;Card&gt;, terms: string): Dictionnary&lt;string;Card&gt;</text>
<rect class="gr" x="922" y="947.5" width="455" height="81"/><line class="dv" x1="922" y1="967.5" x2="1377" y2="967.5"/><line class="dv" x1="922" y1="975.5" x2="1377" y2="975.5"/>
<text class="t" x="1149" y="961.5">Filters</text>
<text class="u" x="925" y="987.5" textLength="447" lengthAdjust="spacingAndGlyphs">+ConstructorFilter(Manufacturer: string, deck: Dictionnary&lt;string;Card&gt;): Dictionnary&lt;string;Card&gt;</text>
<text class="u" x="925" y="997.5" textLength="443" lengthAdjust="spacingAndGlyphs">+ArchitectureFilter(Architecture: string, deck: Dictionnary&lt;string;Card&gt;): Dictionnary&lt;string;Card&gt;</text>
<text class="u" x="925" y="1007.5" textLength="411" lengthAdjust="spacingAndGlyphs">+GflopsSlider(min: int, max: int, deck: Dictionnary&lt;string;Card&gt;): Dictionnary&lt;string;Card&gt;</text>
<text class="u" x="925" y="1017.5" textLength="404" lengthAdjust="spacingAndGlyphs">+PriceSlider(min: int, max: int, deck: Dictionnary&lt;string;Card&gt;): Dictionnary&lt;string;Card&gt;</text>

<!-- Importers -->
<line class="d" x1="781" y1="851" x2="781" y2="934" marker-end="url(#arr)"/>
<rect class="g2" x="694" y="935" width="183" height="45"/><line class="dv" x1="694" y1="954.5" x2="877" y2="954.5"/><line class="dv" x1="694" y1="962.5" x2="877" y2="962.5"/>
<text class="t" x="785" y="948.5">ImporterManager</text><text class="u" x="697" y="974.5">+ImportAll(): Dictionnary&lt;string; Card&gt;</text>
<line class="ls" x1="745" y1="980" x2="745" y2="1030" marker-end="url(#tri)"/>
<rect class="g2" x="445.5" y="1030" width="364.5" height="45.5"/><line class="dv" x1="445.5" y1="1050" x2="810" y2="1050"/><line class="dv" x1="445.5" y1="1058" x2="810" y2="1058"/>
<text class="t" x="627" y="1043.5">ImporterManagerBase</text><text class="u" x="449" y="1069.5" textLength="357" lengthAdjust="spacingAndGlyphs">+ImportSet(Path: string, PnmName: string, PemName string, UslName: string)</text>
<line class="d" x1="600" y1="1076" x2="600" y2="1131" marker-end="url(#arr)"/>
<polyline class="d" points="636,1076 636,1112 668,1112 668,1207" marker-end="url(#arr)"/>

<rect class="g2" x="370" y="1146" width="257.5" height="45"/><line class="dv" x1="370" y1="1166" x2="627.5" y2="1166"/><line class="dv" x1="370" y1="1174" x2="627.5" y2="1174"/>
<text class="t" x="498" y="1159">SImporterDataSets</text><text class="u" x="373" y="1185.5">+FileImportOP(FilePath: string): Dictionnary&lt;int; T&gt;</text>
<rect x="549" y="1132" width="85.5" height="16.5" fill="#5aae00" stroke="#333" stroke-dasharray="2,1.5"/>
<text x="552" y="1143.5">T as List&lt;String&gt;</text>

<rect class="g2" x="712.5" y="1140" width="176.5" height="55"/><line class="dv" x1="712.5" y1="1169" x2="889" y2="1169"/><line class="dv" x1="712.5" y1="1177" x2="889" y2="1177"/>
<text class="c" x="800" y="1151">«unimplemented»</text><text class="t" x="800" y="1163">SImporterUserLists</text><text class="u" x="716" y="1189">+FileImportOP(FilePath String): T</text>
<rect x="882.5" y="1125.5" width="13.5" height="17.5" fill="#5aae00" stroke="#333" stroke-dasharray="2,1.5"/>
<text x="885" y="1137">T</text>

<rect class="g2" x="598.5" y="1208" width="149" height="45"/><line class="dv" x1="598.5" y1="1227.5" x2="747.5" y2="1227.5"/><line class="dv" x1="598.5" y1="1235.5" x2="747.5" y2="1235.5"/>
<text class="t" x="673" y="1221">SImporterPictureLinks</text><text class="u" x="602" y="1247">+FileImportOP(FilePath: string)</text>

<line class="d" x1="500" y1="1191" x2="500" y2="1365" marker-end="url(#arr)"/>
<line class="d" x1="646" y1="1253" x2="530" y2="1365" marker-end="url(#arr)"/>

<!-- Parsers -->
<rect class="m" x="414" y="1366.5" width="171" height="57"/><line class="dv" x1="414" y1="1386.5" x2="585" y2="1386.5"/><line class="dv" x1="414" y1="1394.5" x2="585" y2="1394.5"/>
<text class="t" x="499" y="1380">MainParser</text><text class="u" x="418" y="1406.5">+DeepSplit(str: string): string</text><text class="u" x="418" y="1418.5">+ParseToIntNoSpace(str: string): int</text>
<line class="ln" x1="585" y1="1392" x2="636" y2="1392" marker-end="url(#tri)"/>
<rect class="m" x="636.5" y="1366.5" width="151" height="56"/><line class="dv" x1="636.5" y1="1396" x2="787.5" y2="1396"/><line class="dv" x1="636.5" y1="1404" x2="787.5" y2="1404"/>
<text class="c" x="712" y="1378.5">«partial»</text><text class="t" x="712" y="1390.5">DateParser</text><text class="u" x="640" y="1416.5">+StringToDate(strIN): DateTime</text>

<rect class="m" x="414" y="1442.5" width="174" height="56"/><line class="dv" x1="414" y1="1473" x2="588" y2="1473"/><line class="dv" x1="414" y1="1481" x2="588" y2="1481"/>
<text class="c" x="491" y="1454.5">«Unused»</text><text class="t" x="491" y="1466.5">ParseConstructeur</text><text class="u" x="418" y="1493">+StringToInt(constructeur: string): int</text>
<rect x="564.5" y="1447" width="19.5" height="19" fill="none" stroke="#333"/><path d="M564.5,1447 L584,1466 M584,1447 L564.5,1466" stroke="#333"/>

<rect class="m" x="643" y="1442.5" width="128.5" height="56"/><line class="dv" x1="643" y1="1473" x2="771.5" y2="1473"/><line class="dv" x1="643" y1="1481" x2="771.5" y2="1481"/>
<text class="c" x="697" y="1454.5">«Unused»</text><text class="t" x="697" y="1466.5">BusParser</text><text x="647" y="1493">+ParseBus(bus: string): int</text>
<rect x="749" y="1447" width="19" height="19" fill="none" stroke="#333"/><path d="M749,1447 L768,1466 M768,1447 L749,1466" stroke="#333"/>
</svg>
</body></html>
